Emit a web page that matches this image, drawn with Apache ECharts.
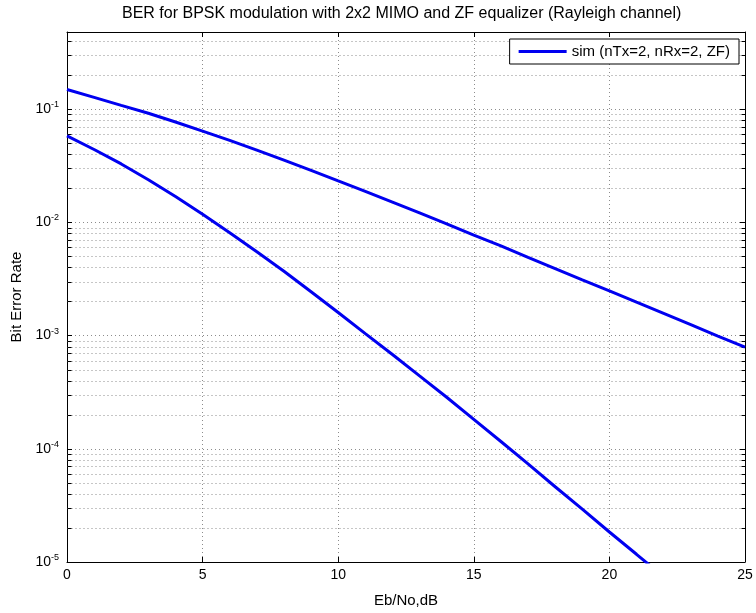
<!DOCTYPE html>
<html>
<head>
<meta charset="utf-8">
<script src="https://cdn.jsdelivr.net/npm/echarts@6/dist/echarts.min.js"></script>
<style>
  html, body { margin: 0; padding: 0; background: #fff; }
  #chart { width: 756px; height: 613px; }
</style>
</head>
<body>
<div id="chart"></div>
<script>
// Eb/No points in dB
const ebNo = [0, 1, 2, 3, 4, 5, 6, 7, 8, 9, 10, 11, 12, 13, 14, 15, 16, 17, 18, 19, 20, 21, 22, 23, 24, 25];

// Simulated BER, 2x2 MIMO with zero-forcing equalizer
const berZf = [0.149, 0.127, 0.108, 0.092, 0.077, 0.064, 0.053, 0.0435, 0.0355, 0.0288,
               0.0232, 0.0188, 0.0151, 0.0121, 0.0097, 0.0077, 0.0062, 0.0049, 0.0039, 0.0031,
               0.00248, 0.00197, 0.00157, 0.00125, 0.00099, 0.00079];

// Lower curve: 1x2 receive diversity (MRC)
const berMrc = [0.058, 0.044, 0.0328, 0.0238, 0.0169, 0.0118, 0.0081, 0.0055, 0.0037, 0.00244,
                0.0016, 0.00104, 0.00068, 0.00044, 0.000285, 0.000182, 0.000116, 0.0000735, 0.0000462, 0.0000293,
                0.0000184, 0.0000117, 0.0000074];

// Axis ranges and tick layout
const xMin = 0, xMax = 25, xStep = 5;
const yMin = 1e-5, yMax = 0.48;

// Intermediate log gridlines (2..9 within each decade)
const minorGrid = [];
for (let d = -5; d <= -1; d++) {
  for (let k = 2; k <= 9; k++) {
    const v = k * Math.pow(10, d);
    if (v < yMax) minorGrid.push(+v.toPrecision(3));
  }
}

const FONT = 'Liberation Sans, Arial, Helvetica, sans-serif';
const gridDash = { color: '#8c8c8c', width: 1, type: [1, 3] };

function powLabel(v) {
  const e = Math.log10(v);
  const r = Math.round(e);
  if (Math.abs(e - r) > 1e-6) return '';
  return '{b|10}{s|' + r + '}';
}

const chart = echarts.init(document.getElementById('chart'), null, { renderer: 'canvas' });

const option = {
  backgroundColor: '#fff',
  animation: false,
  textStyle: { fontFamily: FONT, color: '#000' },
  title: {
    text: 'BER for BPSK modulation with 2x2 MIMO and ZF equalizer (Rayleigh channel)',
    left: 122,
    top: 6,
    padding: 0,
    textStyle: { fontFamily: FONT, fontSize: 16, fontWeight: 'normal', color: '#000' }
  },
  legend: {
    data: [{ name: 'sim (nTx=2, nRx=2, ZF)', icon: 'rect' }],
    right: 17,
    top: 39,
    padding: [4, 9, 4, 9],
    itemWidth: 48,
    itemHeight: 3,
    itemGap: 5,
    backgroundColor: '#fff',
    borderColor: '#000',
    borderWidth: 1,
    borderRadius: 0,
    textStyle: { fontFamily: FONT, fontSize: 15, color: '#000', lineHeight: 17 }
  },
  grid: { left: 67, right: 11, top: 32, bottom: 47, containLabel: false },
  xAxis: [
    {
      type: 'value', min: xMin, max: xMax, interval: xStep,
      name: 'Eb/No,dB', nameLocation: 'middle', nameGap: 31,
      nameTextStyle: { fontFamily: FONT, fontSize: 15, color: '#000' },
      axisLine: { show: true, onZero: false, lineStyle: { color: '#000', width: 1 } },
      axisTick: { show: true, inside: true, length: 5, lineStyle: { color: '#000' } },
      axisLabel: { fontFamily: FONT, fontSize: 14, color: '#000', margin: 6 },
      splitLine: { show: true, lineStyle: gridDash }
    },
    {
      type: 'value', position: 'top', min: xMin, max: xMax, interval: xStep,
      axisLine: { show: true, onZero: false, lineStyle: { color: '#000', width: 1 } },
      axisTick: { show: true, inside: true, length: 5, lineStyle: { color: '#000' } },
      axisLabel: { show: false },
      splitLine: { show: false }
    }
  ],
  yAxis: [
    {
      type: 'log', logBase: 10, min: yMin, max: yMax,
      name: 'Bit Error Rate', nameLocation: 'middle', nameGap: 33, nameRotate: 90,
      nameTextStyle: { fontFamily: FONT, fontSize: 15, color: '#000' },
      axisLine: { show: true, onZero: false, lineStyle: { color: '#000', width: 1 } },
      axisTick: { show: true, inside: true, length: 5, lineStyle: { color: '#000' } },
      axisLabel: {
        margin: 8,
        formatter: powLabel,
        rich: {
          b: { fontFamily: FONT, fontSize: 14, color: '#000' },
          s: { fontFamily: FONT, fontSize: 9, color: '#000', padding: [0, 0, 9, 0] }
        }
      },
      splitLine: { show: true, lineStyle: gridDash }
    },
    {
      type: 'log', logBase: 10, min: yMin, max: yMax, position: 'right',
      axisLine: { show: true, onZero: false, lineStyle: { color: '#000', width: 1 } },
      axisTick: { show: true, inside: true, length: 5, lineStyle: { color: '#000' } },
      axisLabel: { show: false },
      splitLine: { show: false }
    }
  ],
  series: [
    {
      // minor log gridlines with inward ticks on both sides
      type: 'custom',
      xAxisIndex: 0,
      yAxisIndex: 0,
      silent: true,
      z: 1,
      clip: true,
      data: minorGrid.map(v => [xMin, v]),
      encode: { x: 0, y: 1 },
      renderItem: function (params, api) {
        const v = api.value(1);
        const l = api.coord([xMin, v]);
        const r = api.coord([xMax, v]);
        const y = Math.round(l[1]) + 0.5;
        const x0 = Math.round(l[0]) + 0.5;
        const x1 = Math.round(r[0]) + 0.5;
        return {
          type: 'group',
          children: [
            { type: 'line', shape: { x1: x0, y1: y, x2: x1, y2: y },
              style: { stroke: '#8c8c8c', lineWidth: 1, lineDash: [1, 3] } },
            { type: 'line', shape: { x1: x0, y1: y, x2: x0 + 4, y2: y },
              style: { stroke: '#000', lineWidth: 1 } },
            { type: 'line', shape: { x1: x1 - 4, y1: y, x2: x1, y2: y },
              style: { stroke: '#000', lineWidth: 1 } }
          ]
        };
      }
    },
    {
      name: 'sim (nTx=2, nRx=2, ZF)',
      type: 'line',
      xAxisIndex: 0, yAxisIndex: 0,
      data: ebNo.map((x, i) => [x, berZf[i]]),
      showSymbol: false, symbol: 'none',
      lineStyle: { color: '#0000f0', width: 3 },
      itemStyle: { color: '#0000f0' },
      z: 5
    },
    {
      name: 'MRC (nTx=1, nRx=2)',
      type: 'line',
      xAxisIndex: 0, yAxisIndex: 0,
      data: berMrc.map((v, i) => [ebNo[i], v]),
      showSymbol: false, symbol: 'none',
      lineStyle: { color: '#0000f0', width: 3 },
      itemStyle: { color: '#0000f0' },
      z: 5
    }
  ]
};

chart.setOption(option);
</script>
</body>
</html>
